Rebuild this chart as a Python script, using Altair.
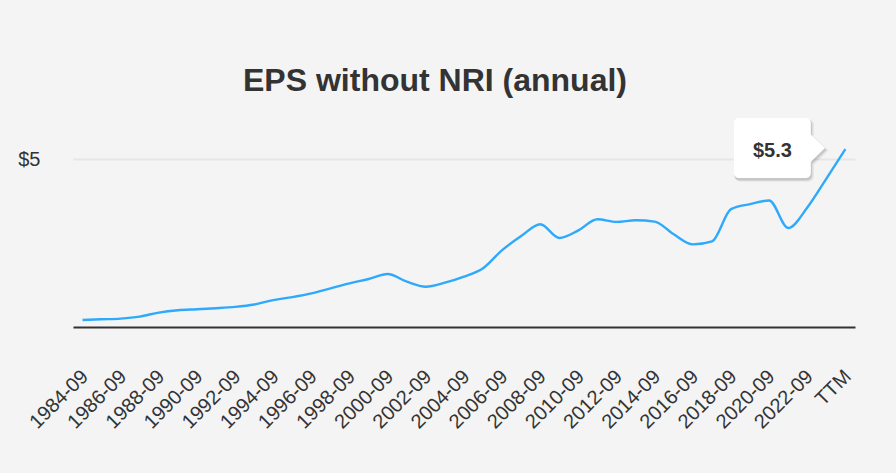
import altair as alt
import pandas as pd

FONT = "Liberation Sans"

periods = ["1984-09", "1985-09", "1986-09", "1987-09", "1988-09", "1989-09",
           "1990-09", "1991-09", "1992-09", "1993-09", "1994-09", "1995-09",
           "1996-09", "1997-09", "1998-09", "1999-09", "2000-09", "2001-09",
           "2002-09", "2003-09", "2004-09", "2005-09", "2006-09", "2007-09",
           "2008-09", "2009-09", "2010-09", "2011-09", "2012-09", "2013-09",
           "2014-09", "2015-09", "2016-09", "2017-09", "2018-09", "2019-09",
           "2020-09", "2021-09", "2022-09", "2023-09", "TTM"]

eps = [0.21, 0.23, 0.25, 0.31, 0.43, 0.50, 0.53, 0.56, 0.60, 0.67, 0.80,
       0.89, 1.00, 1.15, 1.30, 1.43, 1.58, 1.35, 1.20, 1.32, 1.50, 1.75,
       2.29, 2.71, 3.06, 2.65, 2.88, 3.21, 3.13, 3.18, 3.14, 2.76, 2.46,
       2.55, 3.51, 3.66, 3.77, 2.95, 3.56, 4.42, 5.30]

shown_labels = periods[::2]
y_ticks = [5]

df = pd.DataFrame({"period": periods, "eps": eps})
tip = pd.DataFrame({"period": [periods[-1]], "eps": [eps[-1]],
                    "label": ["$" + str(eps[-1])]})

BOX = ("M-0.89,-0.66 H0.58 A0.11,0.11 0 0 1 0.69,-0.55 V-0.3 L1,0 L0.69,0.3 "
       "V0.55 A0.11,0.11 0 0 1 0.58,0.66 H-0.89 A0.11,0.11 0 0 1 -1,0.55 "
       "V-0.55 A0.11,0.11 0 0 1 -0.89,-0.66 Z")

x_enc = alt.X(
    "period:O", sort=periods,
    scale=alt.Scale(type="point", padding=0.5),
    axis=alt.Axis(values=shown_labels, labelAngle=-45, labelAlign="right",
                  labelBaseline="top", labelFontSize=20, labelColor="#333333",
                  labelFont=FONT, labelPadding=39, labelOffset=-5, ticks=False,
                  domainColor="#333333", domainWidth=2, grid=False, title=None,
                  labelOverlap=False),
)
y_enc = alt.Y(
    "eps:Q",
    scale=alt.Scale(domain=[0, 5.6], nice=False, zero=True),
    axis=alt.Axis(values=y_ticks, labelExpr="'$' + datum.value",
                  labelFontSize=20, labelColor="#333333", labelFont=FONT,
                  labelPadding=33, ticks=False, domain=False, grid=True,
                  gridColor="#e6e6e6", gridWidth=2, title=None),
)

line = alt.Chart(df).mark_line(
    interpolate="monotone", color="#2fa9fb", strokeWidth=2.4
).encode(x=x_enc, y=y_enc)

base_tip = alt.Chart(tip).encode(x=alt.X("period:O", sort=periods),
                                 y=alt.Y("eps:Q"))

shadow1 = base_tip.mark_point(shape=BOX, size=8800, filled=True, fill="#000000",
                              opacity=0.07, strokeWidth=0, xOffset=-64, yOffset=1.5)
shadow2 = base_tip.mark_point(shape=BOX, size=8450, filled=True, fill="#000000",
                              opacity=0.12, strokeWidth=0, xOffset=-65, yOffset=1)
box = base_tip.mark_point(shape=BOX, size=8281, filled=True, fill="#ffffff",
                          opacity=1, strokeWidth=0, xOffset=-66, yOffset=-1)
txt = base_tip.mark_text(fontSize=20, fontWeight="bold", color="#333333",
                         font=FONT, align="center", baseline="middle",
                         xOffset=-73, yOffset=1.5).encode(text="label:N")

chart = alt.layer(line, shadow1, shadow2, box, txt).properties(
    width=782, height=188,
    padding={"left": 73, "top": 139, "right": 41, "bottom": 146},
    autosize=alt.AutoSizeParams(type="none"),
    background="#f4f4f4",
    title=alt.TitleParams("EPS without NRI (annual)", fontSize=32, font=FONT,
                          fontWeight="bold", color="#333333", anchor="middle",
                          dx=-29, offset=20),
).configure_view(stroke=None)

chart.save("out.html", embed_options={"renderer": "svg", "actions": False})
